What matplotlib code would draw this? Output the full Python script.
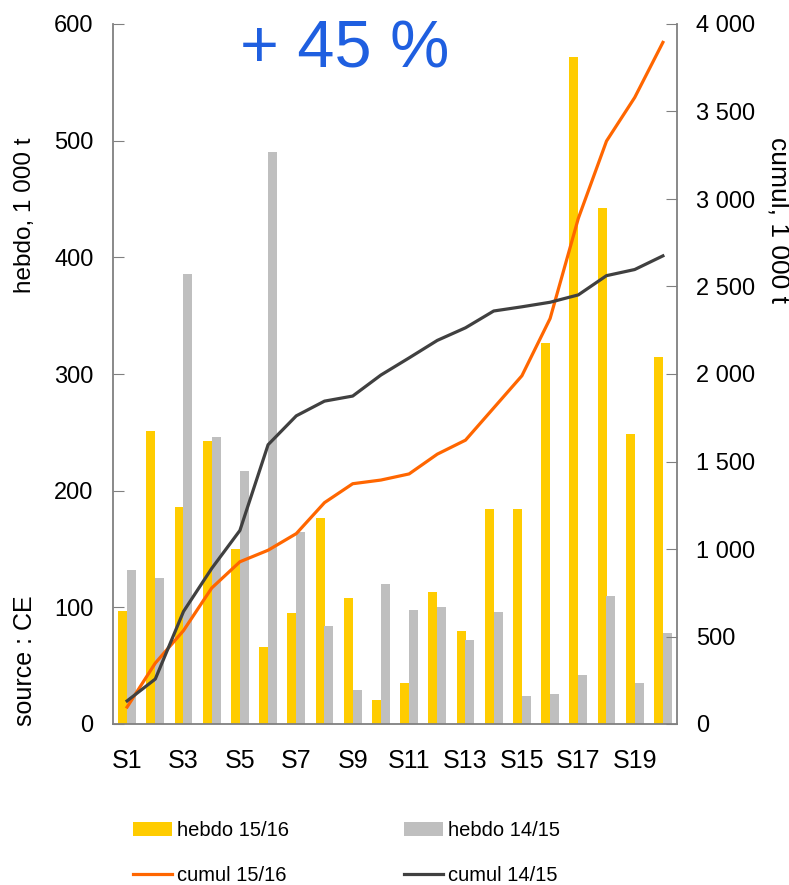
import matplotlib
matplotlib.use("Agg")
import matplotlib.pyplot as plt
import numpy as np

plt.rcParams['font.family'] = ['Liberation Sans', 'DejaVu Sans']

# weeks S1..S20
weeks = ["S" + str(i) for i in range(1, 21)]

# weekly volumes, 1 000 t
hebdo_1516 = [97, 251, 186, 243, 150, 66, 95, 177, 108, 21,
              35, 113, 80, 184, 184, 327, 572, 442, 249, 315]
hebdo_1415 = [132, 125, 386, 246, 217, 490, 165, 84, 29, 120,
              98, 100, 72, 96, 24, 26, 42, 110, 35, 78]

# cumulated volumes, 1 000 t (right axis)
cumul_1516 = [97, 348, 534, 777, 927, 993, 1088, 1265, 1373, 1394,
              1429, 1542, 1622, 1806, 1990, 2317, 2889, 3331, 3580, 3895]
cumul_1415 = [132, 257, 643, 889, 1106, 1596, 1761, 1845, 1874, 1994,
              2092, 2192, 2264, 2360, 2384, 2410, 2452, 2562, 2597, 2675]

yellow = "#FFCC00"
grey = "#BFBFBF"
orange = "#FF6600"
dark = "#404040"
axcol = "#808080"

fig = plt.figure(figsize=(7.89, 8.85), dpi=100)
ax = fig.add_axes([113/789, 1 - 724/885, (677 - 113)/789, (724 - 24)/885])
ax2 = ax.twinx()

x = np.arange(len(weeks))
w = 0.32
b1 = ax.bar(x - 0.155, hebdo_1516, width=w, color=yellow, label="hebdo 15/16", zorder=2)
b2 = ax.bar(x + 0.155, hebdo_1415, width=w, color=grey, label="hebdo 14/15", zorder=2)

l1, = ax2.plot(x, cumul_1516, color=orange, lw=2.3, label="cumul 15/16",
               solid_joinstyle='round')
l2, = ax2.plot(x, cumul_1415, color=dark, lw=2.3, label="cumul 14/15",
               solid_joinstyle='round')

ax.set_xlim(-0.5, len(weeks) - 0.5)
ax.set_ylim(0, 600)
ax2.set_ylim(0, 4000)
ax.set_yticks(range(0, 601, 100))
ax2.set_yticks(range(0, 4001, 500))
ax2.set_yticklabels([f"{v:,}".replace(",", " ") for v in range(0, 4001, 500)])

ax.set_xticks(x[::2])
ax.set_xticklabels(weeks[::2])
ax.tick_params(axis='x', length=0, pad=18, labelsize=18)
ax.tick_params(axis='y', direction='in', length=8, color=axcol, pad=14, labelsize=17)
ax2.tick_params(axis='y', direction='in', length=8, color=axcol, pad=14, labelsize=17)

for a in (ax, ax2):
    a.spines['top'].set_visible(False)
    for s in a.spines.values():
        s.set_color(axcol)
        s.set_linewidth(1.3)
ax.spines['right'].set_visible(False)
ax2.spines['left'].set_visible(False)
ax2.spines['bottom'].set_visible(False)

fig.text(25/789, 1 - 215/885, "hebdo, 1 000 t", rotation=90, fontsize=17.5,
         ha='center', va='center')
fig.text(25/789, 1 - 726/885, "source : CE", rotation=90, fontsize=18,
         ha='center', va='bottom')
fig.text(778/789, 1 - 220/885, "cumul, 1 000 t", rotation=270, fontsize=19,
         ha='center', va='center')

fig.text(345/789, 1 - 50/885, "+ 45 %", color="#1F5FE0", fontsize=48,
         ha='center', va='center')

fig.legend(handles=[b1, l1, b2, l2], ncol=2, frameon=False, loc='upper left',
           bbox_to_anchor=(133/789, 1 - 821/885), borderpad=0, borderaxespad=0,
           fontsize=14.5, handlelength=1.95, handletextpad=0.25,
           columnspacing=5.7, labelspacing=1.3)

fig.savefig("out.png", dpi=100)
